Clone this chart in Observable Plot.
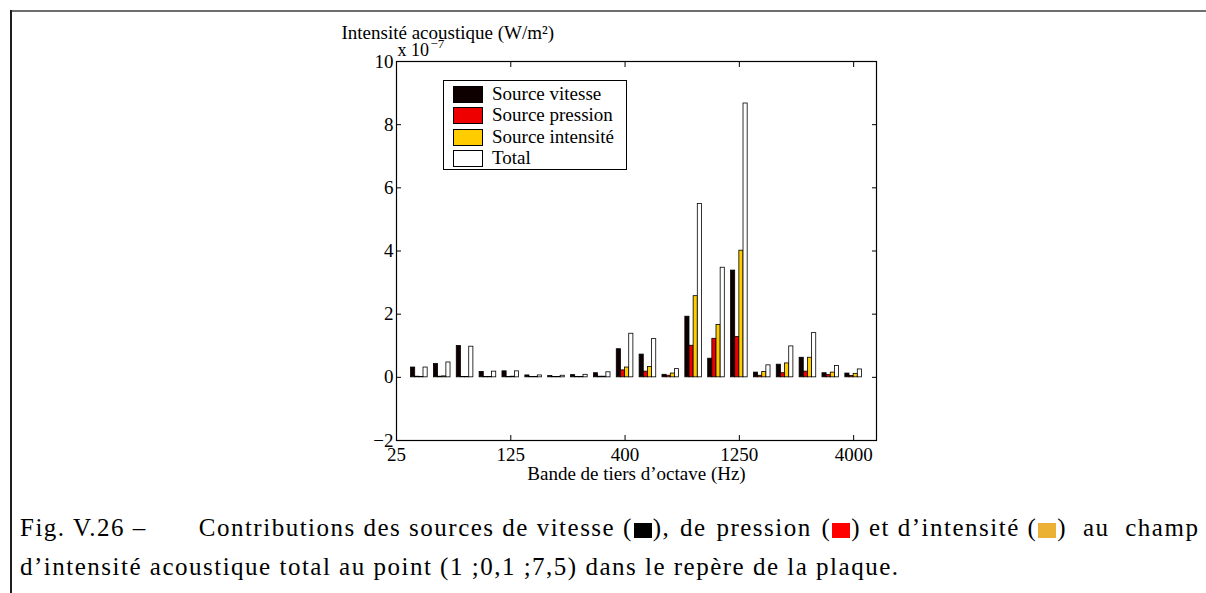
<!DOCTYPE html>
<html>
<head>
<meta charset="utf-8">
<script src="https://cdn.jsdelivr.net/npm/d3@7"></script>
<script src="https://cdn.jsdelivr.net/npm/@observablehq/plot@0.6"></script>
<style>
  html, body { margin: 0; padding: 0; background: #fff; }
  body { width: 1206px; height: 593px; overflow: hidden; position: relative; font-family: "Liberation Serif", "Times New Roman", serif; }
  #frameTop { position: absolute; left: 10px; top: 10px; width: 1196px; height: 2px; background: #6e6e6e; }
  #frameLeft { position: absolute; left: 10px; top: 10px; width: 2px; height: 583px; background: #1e1e1e; }
  #chart { position: absolute; left: 0; top: 0; }
  #legend { position: absolute; left: 443px; top: 80px; width: 182px; height: 88px; border: 1px solid #000; background: #fff; }
  .lrow { position: absolute; left: 9px; height: 17px; font-size: 19px; line-height: 17px; white-space: nowrap; }
  .lsw { position: absolute; left: 0; top: 0; width: 28px; height: 15px; border: 1px solid #000; }
  .ltx { position: absolute; left: 39px; top: -1px; }
  #caption { position: absolute; left: 20px; top: 508px; width: 1186px; overflow: hidden; font-size: 25px; letter-spacing: 1.5px; color: #000; white-space: nowrap; font-family: "Liberation Serif", serif; }
  #caption div { height: 39px; line-height: 39px; }
  .csw { display: inline-block; width: 18px; height: 15px; vertical-align: -2px; margin: 0 1px; }
  .gap { display: inline-block; width: 52px; }
  .mid { word-spacing: 2px; }
  .wide { word-spacing: 8px; }
</style>
</head>
<body>
<div id="frameTop"></div>
<div id="frameLeft"></div>
<div id="chart"></div>
<div id="legend"></div>
<div id="caption"></div>
<script>
// ---- data (intensity in units of 1e-7 W/m²) ----
const groups = [1, 2, 3, 4, 5, 6, 7, 8, 9, 10, 11, 12, 13, 14, 15, 16, 17, 18, 19, 20];
const xTickValues = [0, 5, 10, 15, 20];
const xTickLabels = ["25", "125", "400", "1250", "4000"];
const yTickValues = [-2, 0, 2, 4, 6, 8, 10];
const seriesNames = ["Source vitesse", "Source pression", "Source intensité", "Total"];
const seriesColors = ["#0e0000", "#ee0000", "#ffcc00", "#ffffff"];
const captionColors = ["#000000", "#ff0000", "#ebb135"];
const vitesse   = [0.31, 0.42, 0.99, 0.17, 0.19, 0.06, 0.04, 0.07, 0.13, 0.89, 0.72, 0.08, 1.92, 0.59, 3.38, 0.15, 0.40, 0.62, 0.13, 0.12];
const pression  = [0.02, 0.02, 0.01, 0.01, 0.01, 0.01, 0.01, 0.01, 0.02, 0.22, 0.18, 0.05, 1.00, 1.22, 1.28, 0.05, 0.13, 0.18, 0.07, 0.04];
const intensite = [0.01, 0.03, 0.01, 0.01, 0.02, 0.01, 0.01, 0.01, 0.02, 0.31, 0.33, 0.12, 2.57, 1.66, 4.01, 0.17, 0.44, 0.62, 0.15, 0.11];
const total     = [0.31, 0.47, 0.97, 0.18, 0.19, 0.06, 0.05, 0.08, 0.16, 1.38, 1.21, 0.26, 5.49, 3.47, 8.67, 0.38, 0.98, 1.40, 0.36, 0.25];
const yTitle = "Intensité acoustique (W/m²)";
const xTitle = "Bande de tiers d\u2019octave (Hz)";
const exponentBase = "x 10";
const exponent = "\u22127";

// ---- build table ----
const seriesValues = [vitesse, pression, intensite, total];
const groupWidth = 0.7273;
const barW = groupWidth / seriesNames.length;
const rows = [];
groups.forEach((g, i) => {
  seriesNames.forEach((s, k) => {
    const x1 = g - groupWidth / 2 + k * barW;
    rows.push({g, s, v: seriesValues[k][i], x1, x2: x1 + barW});
  });
});

const fmtY = d => d < 0 ? "\u2212" + (-d) : String(d);
const font = "'Liberation Serif', 'Times New Roman', serif";

const chart = Plot.plot({
  width: 1206,
  height: 490,
  marginLeft: 396,
  marginRight: 330,
  marginTop: 61,
  marginBottom: 50,
  style: {fontFamily: font, fontSize: "19px", background: "transparent", color: "#000"},
  x: {domain: [0, 21], label: null},
  y: {domain: [-2, 10], label: null},
  color: {domain: seriesNames, range: seriesColors},
  marks: [
    Plot.rect(rows, {x1: "x1", x2: "x2", y1: 0, y2: "v", fill: "s", stroke: "#000", strokeWidth: 0.8}),
    Plot.frame({stroke: "#000", strokeWidth: 1.2}),
    // tick marks (inward) on all four sides
    Plot.axisX({anchor: "bottom", ticks: xTickValues, tickSize: -5, tickFormat: () => "", label: null}),
    Plot.axisX({anchor: "top", ticks: xTickValues, tickSize: -5, tickFormat: () => "", label: null}),
    Plot.axisY({anchor: "left", ticks: yTickValues, tickSize: -5, tickFormat: () => "", label: null}),
    Plot.axisY({anchor: "right", ticks: yTickValues, tickSize: -5, tickFormat: () => "", label: null}),
    // tick labels
    Plot.axisX({anchor: "bottom", ticks: xTickValues, tickSize: 0, tickPadding: 7, tickFormat: d => xTickLabels[xTickValues.indexOf(d)], label: null}),
    Plot.axisY({anchor: "left", ticks: yTickValues, tickSize: 0, tickPadding: 3, tickFormat: fmtY, label: null}),
    // titles
    Plot.text([xTitle], {frameAnchor: "bottom", dy: 39, lineAnchor: "bottom", text: d => d, fontSize: 19}),
    Plot.text([yTitle], {frameAnchor: "top-left", dx: -55, dy: -23, textAnchor: "start", lineAnchor: "bottom", text: d => d, fontSize: 19}),
    Plot.text([exponentBase], {frameAnchor: "top-left", dx: 1, dy: -6, textAnchor: "start", lineAnchor: "bottom", text: d => d, fontSize: 18}),
    Plot.text([exponent], {frameAnchor: "top-left", dx: 34, dy: -14, textAnchor: "start", lineAnchor: "bottom", text: d => d, fontSize: 13})
  ]
});
document.getElementById("chart").appendChild(chart);

// ---- legend ----
const legend = document.getElementById("legend");
seriesNames.forEach((s, k) => {
  const row = document.createElement("div");
  row.className = "lrow";
  row.style.top = (5 + k * 21.3) + "px";
  const sw = document.createElement("div");
  sw.className = "lsw";
  sw.style.background = seriesColors[k];
  const tx = document.createElement("div");
  tx.className = "ltx";
  tx.textContent = s;
  row.appendChild(sw); row.appendChild(tx);
  legend.appendChild(row);
});

// ---- caption ----
const sw = c => `<span class="csw" style="background:${c}"></span>`;
document.getElementById("caption").innerHTML =
  `<div>Fig. V.26 –<span class="gap"></span>Contributions des sources de vitesse (${sw(captionColors[0])}<span class="mid">), de pression (</span>${sw(captionColors[1])}) et d\u2019intensité (${sw(captionColors[2])}<span class="wide">) au champ</span></div>` +
  `<div>d\u2019intensité acoustique total au point (1 ;0,1 ;7,5) dans le repère de la plaque.</div>`;
</script>
</body>
</html>
